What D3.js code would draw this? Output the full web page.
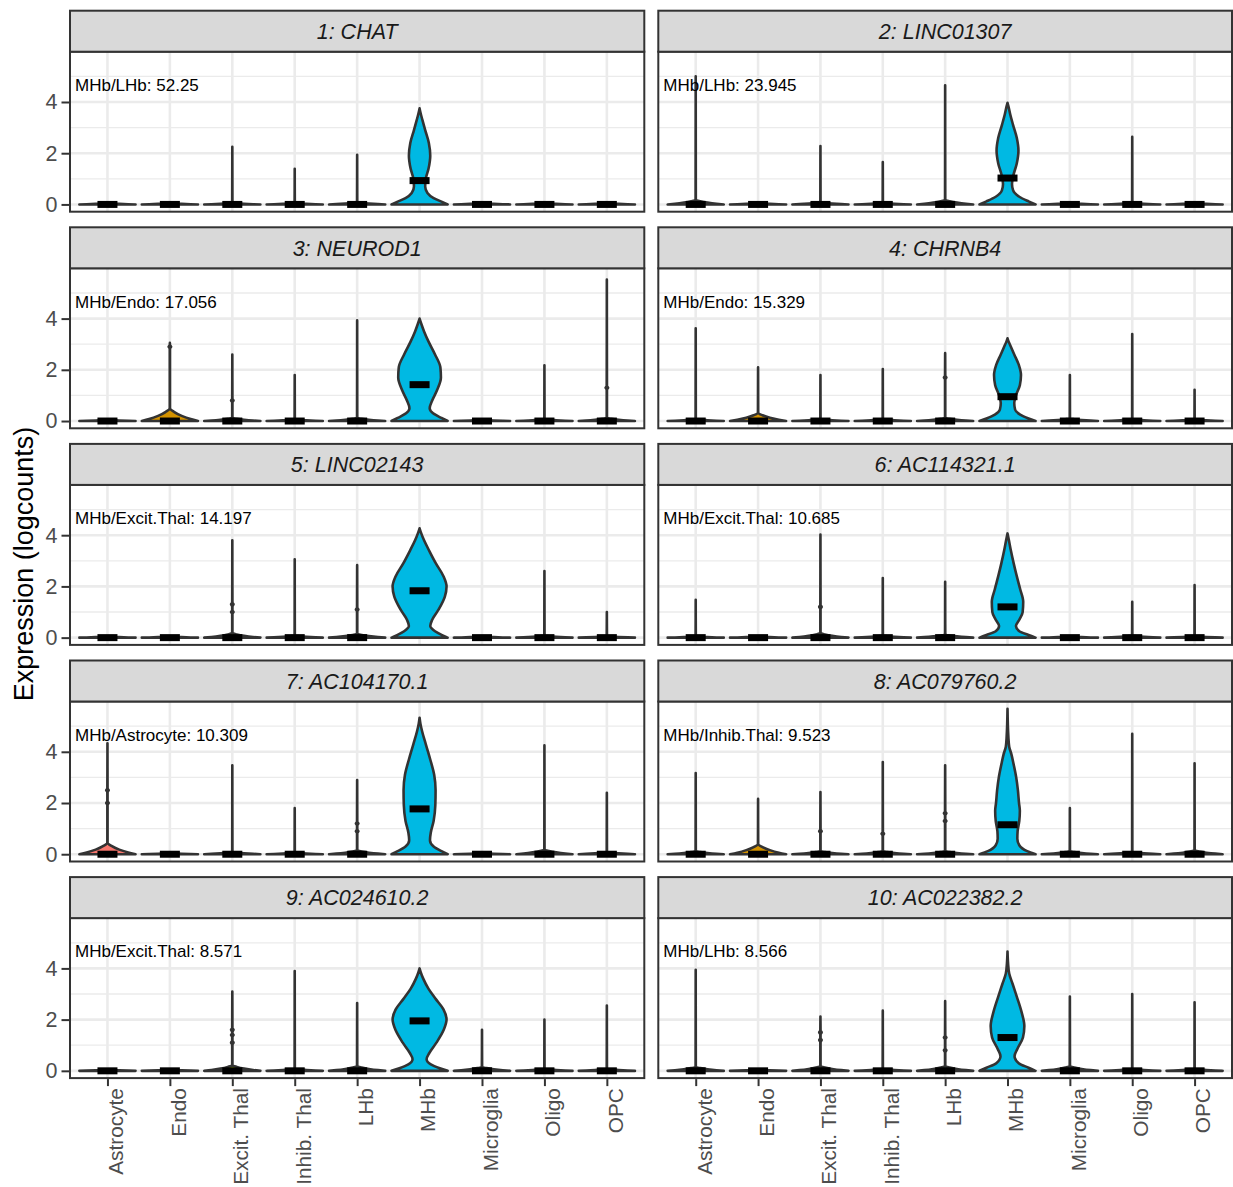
<!DOCTYPE html>
<html>
<head>
<meta charset="utf-8">
<script src="https://cdn.jsdelivr.net/npm/d3@7"></script>
<style>
  body { margin: 0; background: #ffffff; }
  svg text { font-family: "Liberation Sans", Arial, Helvetica, sans-serif; }
</style>
</head>
<body>
<svg id="chart" width="1233" height="1187"></svg>
<script>
// ---- data ---------------------------------------------------------------
const cellTypes = ["Astrocyte", "Endo", "Excit. Thal", "Inhib. Thal", "LHb", "MHb", "Microglia", "Oligo", "OPC"];
const cellColors = ["#F8766D", "#D39200", "#93AA00", "#00BA38", "#00C19F", "#00B9E3", "#619CFF", "#DB72FB", "#FF61C3"];

const geneTitles = ["1: CHAT", "2: LINC01307", "3: NEUROD1", "4: CHRNB4", "5: LINC02143",
                    "6: AC114321.1", "7: AC104170.1", "8: AC079760.2", "9: AC024610.2", "10: AC022382.2"];

const ratioLabels = ["MHb/LHb: 52.25", "MHb/LHb: 23.945", "MHb/Endo: 17.056", "MHb/Endo: 15.329",
                     "MHb/Excit.Thal: 14.197", "MHb/Excit.Thal: 10.685", "MHb/Astrocyte: 10.309",
                     "MHb/Inhib.Thal: 9.523", "MHb/Excit.Thal: 8.571", "MHb/LHb: 8.566"];

const yTicks = [0, 2, 4];
const yMinorTicks = [1, 3, 5];

// maximum expression per gene (rows) and cell type (columns)
const maxValues = [
  [0.00, 0.00, 2.25, 1.39, 1.94, 3.75, 0.00, 0.00, 0.00],
  [5.00, 0.00, 2.28, 1.65, 4.65, 3.97, 0.00, 2.64, 0.00],
  [0.00, 3.05, 2.60, 1.80, 3.93, 4.00, 0.00, 2.18, 5.52],
  [3.62, 2.10, 1.80, 2.03, 2.65, 3.23, 1.80, 3.40, 1.22],
  [0.00, 0.00, 3.80, 3.06, 2.83, 4.27, 0.00, 2.60, 1.00],
  [1.48, 0.00, 4.03, 2.33, 2.18, 4.07, 0.00, 1.40, 2.05],
  [4.33, 0.00, 3.47, 1.80, 2.90, 5.33, 0.00, 4.25, 2.40],
  [3.17, 2.16, 2.43, 3.60, 3.47, 5.68, 1.80, 4.70, 3.55],
  [0.00, 0.00, 3.10, 3.90, 2.65, 4.00, 1.60, 2.00, 2.55],
  [3.95, 0.00, 2.12, 2.35, 2.72, 4.66, 2.90, 3.00, 2.68]
];

// median expression per gene and cell type
const medianValues = [
  [0, 0, 0, 0, 0, 0.93, 0, 0, 0],
  [0, 0, 0, 0, 0, 1.03, 0, 0, 0],
  [0, 0, 0, 0, 0, 1.42, 0, 0, 0],
  [0, 0, 0, 0, 0, 0.95, 0, 0, 0],
  [0, 0, 0, 0, 0, 1.83, 0, 0, 0],
  [0, 0, 0, 0, 0, 1.20, 0, 0, 0],
  [0, 0, 0, 0, 0, 1.77, 0, 0, 0],
  [0, 0, 0, 0, 0, 1.15, 0, 0, 0],
  [0, 0, 0, 0, 0, 1.95, 0, 0, 0],
  [0, 0, 0, 0, 0, 1.30, 0, 0, 0]
];

// height of the low-expression mound at the base of each zero-inflated violin
const baseMounds = [
  [0.05, 0.05, 0.06, 0.05, 0.08, null, 0.05, 0.05, 0.05],
  [0.18, 0.05, 0.08, 0.06, 0.18, null, 0.05, 0.06, 0.05],
  [0.05, 0.50, 0.12, 0.06, 0.12, null, 0.05, 0.08, 0.12],
  [0.08, 0.32, 0.08, 0.08, 0.12, null, 0.10, 0.08, 0.06],
  [0.05, 0.05, 0.18, 0.08, 0.15, null, 0.05, 0.08, 0.06],
  [0.05, 0.05, 0.18, 0.08, 0.12, null, 0.05, 0.08, 0.06],
  [0.45, 0.05, 0.10, 0.06, 0.15, null, 0.05, 0.18, 0.08],
  [0.12, 0.40, 0.12, 0.12, 0.12, null, 0.12, 0.08, 0.15],
  [0.05, 0.05, 0.22, 0.08, 0.18, null, 0.15, 0.08, 0.08],
  [0.15, 0.05, 0.18, 0.08, 0.18, null, 0.18, 0.08, 0.08]
];

// small density blips along the upper tails, keyed "gene-cellIndex"
const tailBlips = {
  "3-1": [2.9], "3-2": [0.8], "3-8": [1.3],
  "4-4": [1.7],
  "5-2": [1.0, 1.3], "5-4": [1.1],
  "6-2": [1.2],
  "7-0": [2.0, 2.5], "7-4": [0.9, 1.2],
  "8-2": [0.9], "8-3": [0.8], "8-4": [1.3, 1.6],
  "9-2": [1.1, 1.4, 1.6],
  "10-2": [1.2, 1.5], "10-4": [0.8, 1.3]
};

// MHb density profiles: [expression, relative half-width]
const mhbProfiles = [
  [[0,1],[0.1,0.8],[0.25,0.5],[0.45,0.28],[0.7,0.2],[1.0,0.22],[1.4,0.32],[1.9,0.38],[2.4,0.33],[2.9,0.2],[3.3,0.1],[3.55,0.04],[3.75,0]],
  [[0,1],[0.12,0.75],[0.3,0.42],[0.55,0.2],[0.8,0.16],[1.1,0.2],[1.6,0.33],[2.1,0.39],[2.6,0.33],[3.1,0.2],[3.5,0.1],[3.8,0.04],[3.97,0]],
  [[0,1],[0.12,0.78],[0.3,0.48],[0.5,0.36],[0.8,0.45],[1.2,0.62],[1.7,0.76],[2.1,0.74],[2.6,0.55],[3.1,0.32],[3.5,0.16],[3.8,0.06],[4.0,0]],
  [[0,1],[0.1,0.75],[0.25,0.45],[0.45,0.27],[0.7,0.24],[1.0,0.3],[1.4,0.44],[1.8,0.48],[2.2,0.4],[2.6,0.24],[2.9,0.12],[3.1,0.04],[3.23,0]],
  [[0,1],[0.1,0.8],[0.25,0.55],[0.45,0.38],[0.7,0.45],[1.1,0.68],[1.6,0.9],[2.0,0.96],[2.4,0.85],[2.9,0.58],[3.4,0.34],[3.8,0.16],[4.1,0.05],[4.27,0]],
  [[0,1],[0.1,0.75],[0.25,0.42],[0.45,0.3],[0.7,0.42],[1.0,0.54],[1.4,0.56],[1.9,0.45],[2.4,0.33],[2.9,0.22],[3.4,0.12],[3.8,0.05],[4.07,0]],
  [[0,1],[0.12,0.78],[0.3,0.5],[0.55,0.37],[0.85,0.4],[1.3,0.5],[1.9,0.56],[2.5,0.57],[3.1,0.52],[3.7,0.38],[4.3,0.22],[4.8,0.09],[5.1,0.03],[5.33,0]],
  [[0,1],[0.12,0.7],[0.35,0.42],[0.6,0.35],[0.9,0.36],[1.3,0.42],[1.7,0.44],[2.0,0.41],[2.5,0.37],[3.0,0.31],[3.5,0.22],[3.9,0.14],[4.2,0.06],[4.6,0.03],[5.68,0]],
  [[0,1],[0.1,0.72],[0.25,0.4],[0.45,0.25],[0.7,0.35],[1.1,0.6],[1.6,0.86],[2.0,0.96],[2.4,0.85],[2.8,0.58],[3.2,0.32],[3.6,0.13],[3.85,0.04],[4.0,0]],
  [[0,1],[0.12,0.75],[0.3,0.4],[0.57,0.25],[0.85,0.35],[1.3,0.55],[1.75,0.6],[2.3,0.5],[2.9,0.33],[3.4,0.18],[3.8,0.06],[4.2,0.02],[4.66,0]]
];

// ---- layout -------------------------------------------------------------
const W = 1233, H = 1187;
const colX = [[70, 644.3], [658.3, 1232]];
const firstStripTop = 10.7, rowStep = 216.6, stripH = 41, panelH = 160;
const gridCol = "#EBEBEB", frameCol = "#333333";

const yMax = d3.max(maxValues.flat());
const yDomain = [-0.05 * yMax, yMax * 1.05];

const svg = d3.select("#chart");
svg.append("rect").attr("width", W).attr("height", H).attr("fill", "#ffffff");

// outline of a zero-inflated violin: wide flat base, a low mound, thin tail up to the maximum
function zeroInflatedProfile(top, mound, blips) {
  const t = mound;
  const pts = [];
  if (top > t + 0.05) {
    pts.push([top, 0]);
    (blips || []).filter(b => b < top - 0.1 && b > t + 0.1)
      .sort((a, b) => b - a)
      .forEach(b => pts.push([b + 0.07, 0.004], [b, 0.045], [b - 0.07, 0.004]));
    pts.push([t, 0.004]);
  } else {
    pts.push([t, 0.02]);
  }
  pts.push([t * 0.7, 0.16], [t * 0.4, 0.42], [t * 0.15, 0.74], [0, 1]);
  return pts;
}

geneTitles.forEach((title, gi) => {
  const col = gi % 2, row = Math.floor(gi / 2);
  const [x0, x1] = colX[col];
  const sTop = firstStripTop + row * rowStep;
  const pTop = sTop + stripH, pBot = pTop + panelH;

  const x = d3.scalePoint().domain(cellTypes).range([x0, x1]).padding(0.6);
  const y = d3.scaleLinear().domain(yDomain).range([pBot, pTop]);
  const halfW = x.step() * 0.45;

  const g = svg.append("g").attr("class", "panel");
  g.append("rect").attr("x", x0).attr("y", pTop).attr("width", x1 - x0).attr("height", panelH).attr("fill", "#ffffff");

  // grid
  g.selectAll(".minor").data(yMinorTicks).join("line")
    .attr("x1", x0).attr("x2", x1).attr("y1", d => y(d)).attr("y2", d => y(d))
    .attr("stroke", gridCol).attr("stroke-width", 1.3);
  g.selectAll(".majorY").data(yTicks).join("line")
    .attr("x1", x0).attr("x2", x1).attr("y1", d => y(d)).attr("y2", d => y(d))
    .attr("stroke", gridCol).attr("stroke-width", 2.6);
  g.selectAll(".majorX").data(cellTypes).join("line")
    .attr("x1", d => x(d)).attr("x2", d => x(d)).attr("y1", pTop).attr("y2", pBot)
    .attr("stroke", gridCol).attr("stroke-width", 2.6);

  // violins
  const violins = cellTypes.map((ct, ci) => ({
    ct, ci,
    profile: ct === "MHb"
      ? mhbProfiles[gi].slice().sort((a, b) => b[0] - a[0])
      : zeroInflatedProfile(maxValues[gi][ci], baseMounds[gi][ci], tailBlips[(gi + 1) + "-" + ci]),
    median: medianValues[gi][ci]
  }));

  violins.forEach(v => {
    const cx = x(v.ct);
    const area = d3.area()
      .y(d => y(d[0]))
      .x0(d => cx - d[1] * halfW)
      .x1(d => cx + d[1] * halfW)
      .curve(d3.curveMonotoneY);
    g.append("path")
      .attr("d", area(v.profile))
      .attr("fill", cellColors[v.ci])
      .attr("stroke", frameCol)
      .attr("stroke-width", 2.6)
      .attr("stroke-linejoin", "round");
  });

  // medians
  g.selectAll(".median").data(violins).join("rect")
    .attr("x", d => x(d.ct) - 10).attr("y", d => y(d.median) - 3.5)
    .attr("width", 20).attr("height", 7).attr("fill", "#000000");

  // ratio annotation
  g.append("text")
    .attr("x", x0 + 5).attr("y", y(4.43))
    .attr("font-size", 17).attr("fill", "#000000")
    .text(ratioLabels[gi]);

  // panel frame
  g.append("rect").attr("x", x0).attr("y", pTop).attr("width", x1 - x0).attr("height", panelH)
    .attr("fill", "none").attr("stroke", frameCol).attr("stroke-width", 2);

  // strip
  g.append("rect").attr("x", x0).attr("y", sTop).attr("width", x1 - x0).attr("height", stripH)
    .attr("fill", "#D9D9D9").attr("stroke", frameCol).attr("stroke-width", 2);
  g.append("text")
    .attr("x", (x0 + x1) / 2).attr("y", sTop + stripH / 2).attr("dy", "0.36em")
    .attr("text-anchor", "middle").attr("font-size", 21.5).attr("font-style", "italic")
    .attr("fill", "#1A1A1A").text(title);

  // y axis on the left column
  if (col === 0) {
    const ay = g.append("g").attr("transform", `translate(${x0 - 1},0)`)
      .call(d3.axisLeft(y).tickValues(yTicks).tickSize(7.5).tickPadding(4).tickFormat(d3.format("d")));
    ay.select(".domain").remove();
    ay.selectAll(".tick line").attr("stroke", frameCol).attr("stroke-width", 2);
    ay.selectAll(".tick text").attr("font-size", 21.5).attr("fill", "#4D4D4D")
      .attr("font-family", "Liberation Sans, Arial, sans-serif");
  }

  // x axis on the bottom row
  if (row === 4) {
    const ax = g.append("g").attr("transform", `translate(0,${pBot + 1})`)
      .call(d3.axisBottom(x).tickSize(7));
    ax.select(".domain").remove();
    ax.selectAll(".tick line").attr("stroke", frameCol).attr("stroke-width", 2);
    ax.selectAll(".tick text")
      .attr("transform", "rotate(-90)")
      .attr("x", -9).attr("y", 0).attr("dy", "0.74em")
      .attr("text-anchor", "end")
      .attr("font-size", 20.8).attr("fill", "#4D4D4D")
      .attr("font-family", "Liberation Sans, Arial, sans-serif");
  }
});

// y axis title
svg.append("text")
  .attr("transform", "translate(32.5,564) rotate(-90)")
  .attr("text-anchor", "middle")
  .attr("font-size", 27).attr("fill", "#000000")
  .text("Expression (logcounts)");
</script>
</body>
</html>
